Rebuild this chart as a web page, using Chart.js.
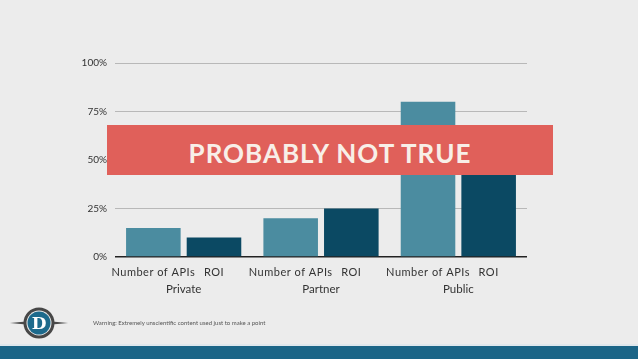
<!DOCTYPE html>
<html>
<head>
<meta charset="utf-8">
<script src="https://cdn.jsdelivr.net/npm/chart.js@4"></script>
<style>
  html, body { margin: 0; padding: 0; }
  body { width: 638px; height: 359px; background: #ececec; position: relative; overflow: hidden; font-family: Lato, sans-serif; }
  #wrap { position: absolute; left: 0; top: 0; width: 638px; height: 359px; }
  #banner { position: absolute; left: 107px; top: 125px; width: 446px; height: 50px; background: #e0605a;
            color: #f8efe8; font: bold 26px Lato, sans-serif; letter-spacing: 1px; text-align: center; line-height: 56px; }
  #warning { position: absolute; left: 93px; top: 319px; font: 6px Lato, sans-serif; color: #555; }
  #logo { position: absolute; left: 8px; top: 306px; }
  #strip { position: absolute; left: 0; top: 344px; width: 638px; height: 2px; background: #dfe7ec; }
  #band { position: absolute; left: 0; top: 346px; width: 638px; height: 13px; background: #1b6587; }
</style>
</head>
<body>
<div id="wrap"><canvas id="myChart"></canvas></div>
<div id="banner">PROBABLY NOT TRUE</div>
<svg id="logo" width="62" height="34" viewBox="0 0 62 34">
  <path d="M2 17 L18 15.5 L18 18.5 Z" fill="#4a4a4a"/>
  <path d="M60 17 L44 15.5 L44 18.5 Z" fill="#4a4a4a"/>
  <circle cx="31" cy="17" r="15.5" fill="#474747"/>
  <circle cx="31" cy="17" r="12.5" fill="#ececec"/>
  <circle cx="31" cy="17" r="11.5" fill="#1d6a8c"/>
  <text x="31" y="23" text-anchor="middle" font-family="DejaVu Serif" font-weight="bold" font-size="17" fill="#fff">D</text>
</svg>
<div id="warning">Warning: Extremely unscientific content used just to make a point</div>
<div id="strip"></div>
<div id="band"></div>
<script>
// Categories and series
const categories = ["Private", "Partner", "Public"];
const seriesNames = ["Number of APIs", "ROI"];
const apiValues = [15, 20, 80];
const roiValues = [10, 25, 60];
const yTicks = [0, 25, 50, 75, 100];

// Draw the series name under each bar
const seriesLabels = {
    id: "seriesLabels",
    afterDraw(chart) {
        const ctx = chart.ctx;
        ctx.save();
        ctx.font = "11px Lato, sans-serif";
        ctx.letterSpacing = "0.5px";
        ctx.fillStyle = "#333";
        ctx.textAlign = "center";
        ctx.textBaseline = "middle";
        chart.data.datasets.forEach((ds, i) => {
            chart.getDatasetMeta(i).data.forEach(bar => {
                ctx.fillText(ds.label, bar.x, 272);
            });
        });
        ctx.restore();
    }
};

new Chart("myChart", {
    type: "bar",
    data: {
        labels: categories,
        datasets: [
            { label: seriesNames[0], data: apiValues, backgroundColor: "#4b8ca0" },
            { label: seriesNames[1], data: roiValues, backgroundColor: "#0b4963" }
        ]
    },
    options: {
        responsive: true,
        maintainAspectRatio: false,
        animation: false,
        categoryPercentage: 0.883,
        barPercentage: 0.9,
        layout: { padding: { left: 0, right: 111, top: 63, bottom: 0 } },
        scales: {
            y: {
                min: 0,
                max: 100,
                afterFit: s => { s.width = 115; },
                afterBuildTicks: s => { s.ticks = yTicks.map(v => ({ value: v })); },
                border: { display: false },
                grid: {
                    drawTicks: false,
                    color: c => c.tick && c.tick.value === 0 ? "#222" : "#b8b8b8",
                    lineWidth: c => c.tick && c.tick.value === 0 ? 1.5 : 1
                },
                ticks: {
                    padding: 8,
                    color: "#333",
                    font: { family: "Lato", size: 10 },
                    callback: v => v + "%"
                }
            },
            x: {
                afterFit: s => { s.height = 102; },
                border: { display: false },
                grid: { display: false },
                ticks: {
                    padding: 17,
                    color: "#333",
                    font: { family: "Lato", size: 11.5 }
                }
            }
        },
        plugins: {
            legend: { display: false },
            tooltip: { enabled: false }
        }
    },
    plugins: [seriesLabels]
});
</script>
</body>
</html>
